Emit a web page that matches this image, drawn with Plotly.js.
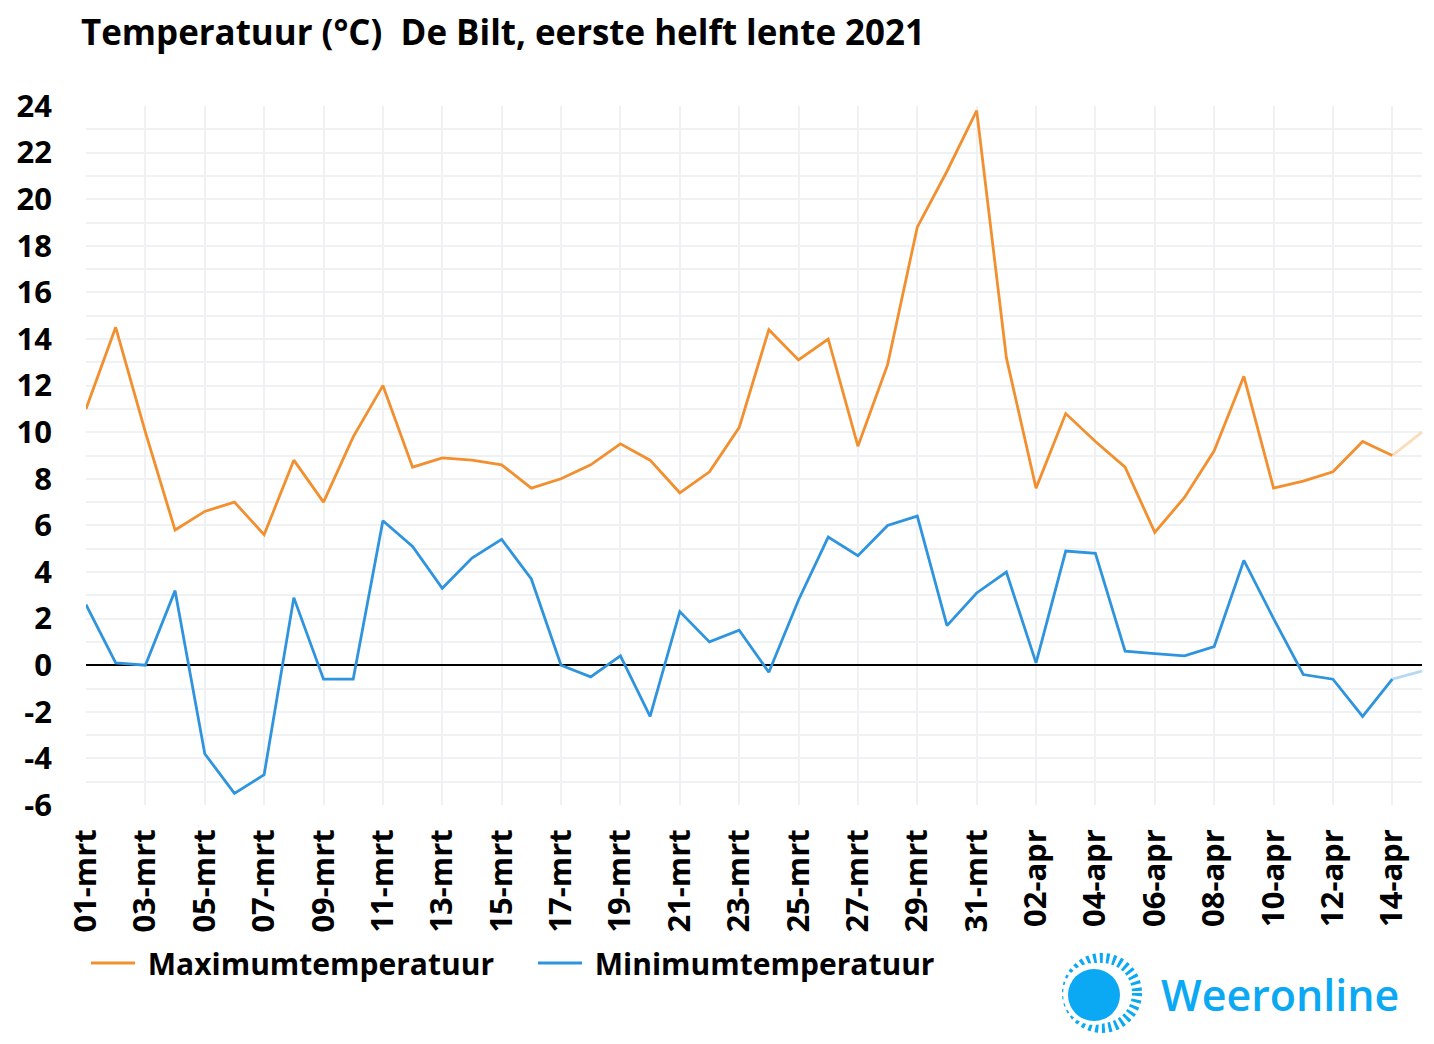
<!DOCTYPE html>
<html><head><meta charset="utf-8">
<script src="https://cdn.plot.ly/plotly-3.0.1.min.js"></script>
<style>html,body{margin:0;padding:0;background:#fff}</style></head>
<body><div id="chart" style="width:1434px;height:1044px"></div>
<script>
const days = ["01-mrt","02-mrt","03-mrt","04-mrt","05-mrt","06-mrt","07-mrt","08-mrt","09-mrt","10-mrt","11-mrt","12-mrt","13-mrt","14-mrt","15-mrt","16-mrt","17-mrt","18-mrt","19-mrt","20-mrt","21-mrt","22-mrt","23-mrt","24-mrt","25-mrt","26-mrt","27-mrt","28-mrt","29-mrt","30-mrt","31-mrt","01-apr","02-apr","03-apr","04-apr","05-apr","06-apr","07-apr","08-apr","09-apr","10-apr","11-apr","12-apr","13-apr","14-apr","15-apr"];
const maxTemp = [11,14.5,10,5.8,6.6,7,5.6,8.8,7,9.8,12,8.5,8.9,8.8,8.6,7.6,8,8.6,9.5,8.8,7.4,8.3,10.2,14.4,13.1,14,9.4,12.9,18.8,21.2,23.8,13.2,7.6,10.8,9.6,8.5,5.7,7.2,9.2,12.4,7.6,7.9,8.3,9.6,9,10];
const minTemp = [2.6,0.1,0,3.2,-3.8,-5.5,-4.7,2.9,-0.6,-0.6,6.2,5.1,3.3,4.6,5.4,3.7,0,-0.5,0.4,-2.2,2.3,1,1.5,-0.3,2.8,5.5,4.7,6,6.4,1.7,3.1,4,0.1,4.9,4.8,0.6,0.5,0.4,0.8,4.5,2,-0.4,-0.6,-2.2,-0.6,-0.25];
const xTicks = ["01-mrt","03-mrt","05-mrt","07-mrt","09-mrt","11-mrt","13-mrt","15-mrt","17-mrt","19-mrt","21-mrt","23-mrt","25-mrt","27-mrt","29-mrt","31-mrt","02-apr","04-apr","06-apr","08-apr","10-apr","12-apr","14-apr"];
const yLabels = [-6,-4,-2,0,2,4,6,8,10,12,14,16,18,20,22,24];
const yLabelText = ["-6","-4","-2","0","2","4","6","8","10","12","14","16","18","20","22","24"];
const yGrid = [-5,-4,-3,-2,-1,0,1,2,3,4,5,6,7,8,9,10,11,12,13,14,15,16,17,18,19,20,21,22,23];

const W = 1434, H = 1044;
const M = {l:86, r:12, t:106, b:239, pad:0};
const FONT = '"Open Sans", sans-serif';
const ORANGE = '#f28f2e', BLUE = '#2f94de', LOGO = '#0ba8f4', GRID = '#f0f1f2';
const px = v => (v - M.l) / (W - M.l - M.r), py = v => (H - M.b - v) / (H - M.t - M.b);
const n = days.length - 1;
const line = (name, xs, ys, color, legend, axis) => ({
  type:'scatter', mode:'lines', name, x:xs, y:ys, yaxis:axis,
  showlegend:legend, hoverinfo:'skip', cliponaxis:true,
  line:{color, width:2.8, simplify:false}
});
const traces = [
  line('Maximumtemperatuur', days.slice(n-1), maxTemp.slice(n-1), '#fbdcb8', false, 'y'),
  line('Minimumtemperatuur', days.slice(n-1), minTemp.slice(n-1), '#b5d9f4', false, 'y'),
  line('\u00a0Maximumtemperatuur', days.slice(0,n), maxTemp.slice(0,n), ORANGE, true, 'y2'),
  line('\u00a0Minimumtemperatuur', days.slice(0,n), minTemp.slice(0,n), BLUE, true, 'y2')
];
const circle = (cx, cy, r, props) => Object.assign({
  type:'circle', xref:'paper', yref:'paper', layer:'above',
  x0:px(cx-r), x1:px(cx+r), y0:py(cy+r), y1:py(cy-r)
}, props);
const layout = {
  width:W, height:H, autosize:false, margin:M,
  paper_bgcolor:'#fff', plot_bgcolor:'#fff',
  font:{family:FONT, color:'#000'},
  title:{text:'Temperatuur (°C)\u00a0\u00a0De Bilt, eerste helft lente 2021',
    x:81/W, xanchor:'left', xref:'container',
    y:1-33/H, yanchor:'middle', yref:'container',
    font:{family:FONT, size:34.9, weight:700, color:'#000'}},
  xaxis:{type:'category', categoryorder:'array', categoryarray:days, range:[0,n],
    tickmode:'array', tickvals:xTicks, ticktext:xTicks, tickangle:-90,
    ticklabelstandoff:17, ticks:'', showgrid:true, gridcolor:GRID, gridwidth:2,
    zeroline:false, showline:false,
    tickfont:{family:FONT, size:31, weight:700, color:'#000'}},
  yaxis:{range:[-6,24], tickmode:'array', tickvals:yGrid, showticklabels:false,
    ticks:'', showgrid:true, gridcolor:GRID, gridwidth:2, zeroline:false, showline:false},
  yaxis2:{range:[-6,24], overlaying:'y', side:'left', tickmode:'array', tickvals:yLabels, ticktext:yLabelText,
    ticks:'', showgrid:false, zeroline:true, zerolinecolor:'#000', zerolinewidth:1.5, showline:false,
    ticklabelstandoff:33,
    tickfont:{family:FONT, size:31, weight:700, color:'#000'}},
  legend:{orientation:'h', x:px(86), xanchor:'left', y:py(963), yanchor:'middle',
    itemwidth:44, entrywidth:388, entrywidthmode:'pixels', traceorder:'normal', bgcolor:'rgba(0,0,0,0)',
    font:{family:FONT, size:30, weight:700, color:'#000'}},
  shapes:[
    circle(1102, 993, 35, {fillcolor:'rgba(0,0,0,0)', line:{color:LOGO, width:10, dash:'3px,3.5px'}}),
    circle(1094, 994, 31, {fillcolor:'#fff', line:{width:0}}),
    circle(1094, 995, 26, {fillcolor:LOGO, line:{width:0}})
  ],
  annotations:[{text:'Weeronline', showarrow:false, xref:'paper', yref:'paper',
    x:px(1159), xanchor:'left', y:py(995), yanchor:'middle',
    font:{family:FONT, size:43, weight:600, color:LOGO}}]
};
Plotly.newPlot('chart', traces, layout, {displayModeBar:false, staticPlot:true});
</script></body></html>
